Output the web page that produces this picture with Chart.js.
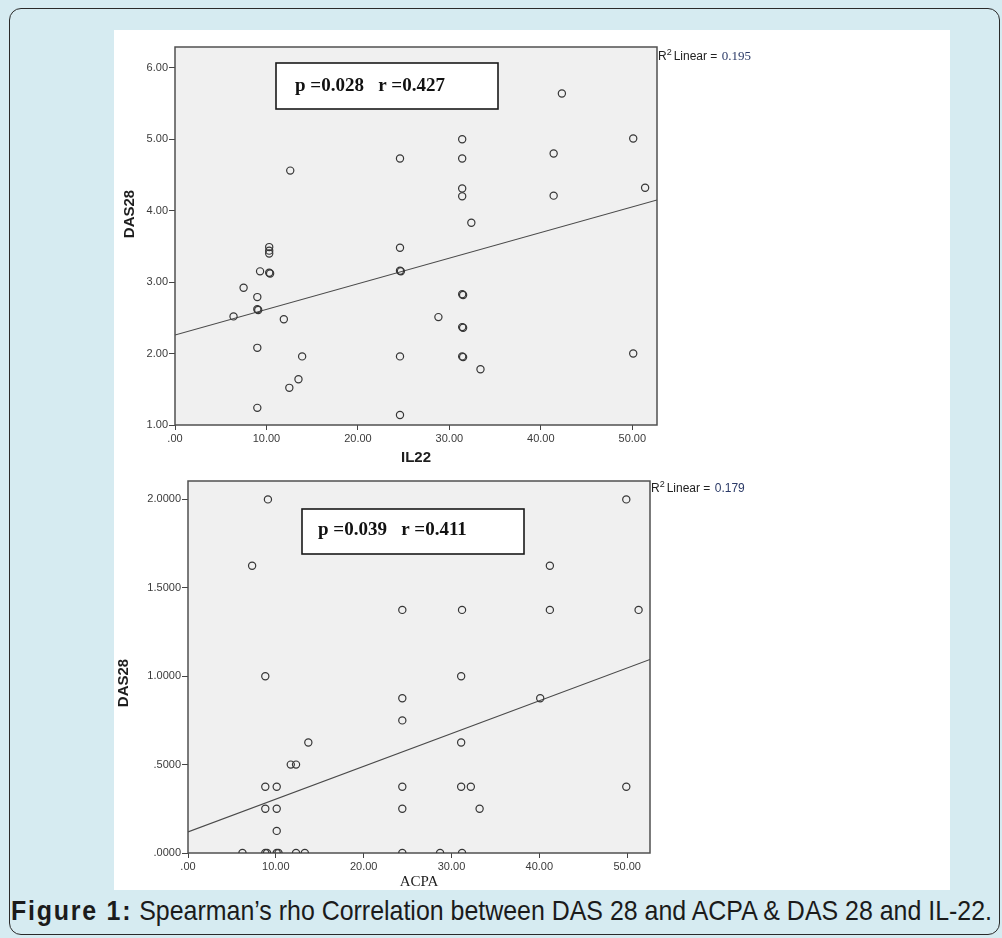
<!DOCTYPE html>
<html>
<head>
<meta charset="utf-8">
<script src="https://cdn.jsdelivr.net/npm/chart.js@4.4.1/dist/chart.umd.min.js"></script>
<style>
html,body{margin:0;padding:0;}
body{width:1002px;height:938px;overflow:hidden;position:relative;background:#d6ebf1;font-family:"Liberation Sans",Arial,sans-serif;}
#frame{position:absolute;left:9px;top:8px;width:991px;height:927px;border:1.5px solid #2a2a2a;border-radius:12px;box-sizing:border-box;}
#panel{position:absolute;left:114px;top:30px;width:836px;height:860px;background:#ffffff;}
#w1{position:absolute;left:114px;top:30px;width:686px;height:440px;}
#w2{position:absolute;left:114px;top:470px;width:686px;height:420px;}
canvas{display:block;}
#caption{position:absolute;left:11px;top:895px;white-space:nowrap;font-family:"Liberation Sans Narrow","Liberation Sans",Arial,sans-serif;font-size:28px;line-height:32px;color:#1b1b1b;transform-origin:0 0;}
#caption b{font-weight:bold;letter-spacing:2px;}
</style>
</head>
<body>
<div id="frame"></div>
<div id="panel"></div>
<div id="w1"><canvas id="c1" width="686" height="440"></canvas></div>
<div id="w2"><canvas id="c2" width="686" height="420"></canvas></div>
<div id="caption"><b>Figure 1:</b> Spearman’s rho Correlation between DAS 28 and ACPA &amp; DAS 28 and IL-22.</div>
<script>
// ---------- data ----------
const il22 = [12.6, 24.6, 31.4, 31.4, 31.4, 31.4, 32.4, 24.6, 10.3, 10.3, 10.3, 42.3, 50.1, 41.4, 41.4, 51.4, 50.1,
              9.3, 10.3, 10.4, 7.5, 9.0, 9.0, 9.1, 6.4, 11.9, 9.0, 13.9, 13.5, 12.5, 9.0,
              24.6, 24.7, 24.6, 24.6, 28.8, 31.4, 31.5, 31.4, 31.5, 31.4, 31.5, 33.4];
const das28Top = [4.56, 4.73, 5.00, 4.73, 4.31, 4.20, 3.83, 3.48, 3.49, 3.44, 3.40, 5.64, 5.01, 4.80, 4.21, 4.32, 2.00,
              3.15, 3.13, 3.12, 2.92, 2.79, 2.62, 2.61, 2.52, 2.48, 2.08, 1.96, 1.64, 1.52, 1.24,
              3.16, 3.15, 1.96, 1.14, 2.51, 2.83, 2.82, 2.37, 2.36, 1.96, 1.95, 1.78];

const acpa = [9.1, 7.3, 24.4, 31.2, 49.9, 41.2, 41.2, 51.3, 8.8, 31.1, 24.4, 24.4, 13.7, 31.1, 11.7, 12.3,
              8.8, 10.1, 24.4, 31.1, 32.2, 8.8, 10.1, 24.4, 33.2, 10.1,
              6.2, 8.8, 9.0, 10.1, 10.3, 12.3, 13.3, 24.4, 28.7, 31.2, 40.1, 49.9];
const das28Bottom = [2.0, 1.625, 1.375, 1.375, 2.0, 1.625, 1.375, 1.375, 1.0, 1.0, 0.875, 0.75, 0.625, 0.625, 0.5, 0.5,
              0.375, 0.375, 0.375, 0.375, 0.375, 0.25, 0.25, 0.25, 0.25, 0.125,
              0, 0, 0, 0, 0, 0, 0, 0, 0, 0, 0.875, 0.375];

const fitTopX = [0, 52.7];
const fitTopY = [2.26, 4.15];
const fitBottomX = [0, 52.6];
const fitBottomY = [0.119, 1.095];

const xTickValues = [0, 10, 20, 30, 40, 50];
const xTickLabels = ['.00', '10.00', '20.00', '30.00', '40.00', '50.00'];
const yTopTickValues = [1, 2, 3, 4, 5, 6];
const yTopTickLabels = ['1.00', '2.00', '3.00', '4.00', '5.00', '6.00'];
const yBottomTickValues = [0, 0.5, 1, 1.5, 2];
const yBottomTickLabels = ['.0000', '.5000', '1.0000', '1.5000', '2.0000'];

const statsTop = 'p =0.028   r =0.427';
const statsBottom = 'p =0.039   r =0.411';
const r2Top = '0.195';
const r2Bottom = '0.179';

// ---------- drawing ----------
const SANS = '"Liberation Sans", Arial, sans-serif';
const SERIF = '"Liberation Serif", "Times New Roman", serif';

const deco = {
  id: 'deco',
  beforeDraw(chart, args, o) {
    const {ctx, chartArea: a} = chart;
    ctx.save();
    ctx.fillStyle = o.plotBg;
    ctx.fillRect(a.left, a.top, a.right - a.left, a.bottom - a.top);
    ctx.restore();
  },
  beforeDatasetsDraw(chart, args, o) {
    const {ctx, chartArea: a} = chart;
    ctx.save();
    ctx.strokeStyle = '#505050';
    ctx.lineWidth = 1.5;
    ctx.strokeRect(a.left, a.top, a.right - a.left, a.bottom - a.top);
    ctx.restore();
  },
  afterDraw(chart, args, o) {
    const ctx = chart.ctx;
    ctx.save();
    // stats box
    const b = o.box;
    ctx.fillStyle = '#ffffff';
    ctx.fillRect(b.x1, b.y1, b.x2 - b.x1, b.y2 - b.y1);
    ctx.strokeStyle = '#1a1a1a';
    ctx.lineWidth = 1.6;
    ctx.strokeRect(b.x1, b.y1, b.x2 - b.x1, b.y2 - b.y1);
    ctx.fillStyle = '#111111';
    ctx.font = 'bold 19px ' + SERIF;
    ctx.textBaseline = 'middle';
    ctx.textAlign = 'left';
    ctx.fillText(o.stats, b.tx, b.ty);
    // R² label
    ctx.fillStyle = '#222222';
    ctx.font = '12px ' + SANS;
    let x = o.r2x;
    ctx.fillText('R', x, o.r2y);
    x += ctx.measureText('R').width;
    ctx.font = '9px ' + SANS;
    ctx.fillText('2', x, o.r2y - 4);
    x += ctx.measureText('2').width + 2;
    ctx.font = '12px ' + SANS;
    ctx.fillText('Linear = ', x, o.r2y);
    x += ctx.measureText('Linear = ').width + 1;
    ctx.fillStyle = '#2b3a67';
    ctx.font = o.r2Font;
    ctx.fillText(o.r2, x, o.r2y);
    // y title (rotated)
    ctx.translate(o.yt.x, o.yt.y);
    ctx.rotate(-Math.PI / 2);
    ctx.textAlign = 'center';
    ctx.fillStyle = '#1e1e1e';
    ctx.font = 'bold 15px ' + SANS;
    ctx.fillText('DAS28', 0, 0);
    ctx.restore();
  }
};

function pts(xs, ys) { return xs.map((x, i) => ({x: x, y: ys[i]})); }

function makeChart(id, o) {
  return new Chart(document.getElementById(id), {
    type: 'scatter',
    data: {
      datasets: [
        {data: pts(o.xs, o.ys), pointRadius: 3.6, pointHoverRadius: 3.6, pointStyle: 'circle',
         borderColor: '#363636', backgroundColor: 'rgba(0,0,0,0)', borderWidth: 1.2, order: 1},
        {data: pts(o.fitX, o.fitY), showLine: true, pointRadius: 0, borderColor: '#4a4a4a',
         borderWidth: 1.1, fill: false, order: 2}
      ]
    },
    options: {
      responsive: false, animation: false, events: [],
      layout: {padding: o.padding},
      plugins: {legend: {display: false}, tooltip: {enabled: false}, deco: o.deco},
      scales: {
        x: {
          type: 'linear', position: 'bottom', min: o.xMin, max: o.xMax,
          afterBuildTicks: s => { s.ticks = xTickValues.map(v => ({value: v})); },
          afterFit: s => { s.height = o.xAxisH; },
          ticks: {autoSkip: false, maxRotation: 0, minRotation: 0, padding: 2, color: '#3a3a3a',
                  font: {family: SANS, size: 11}, callback: (v, i) => xTickLabels[i]},
          grid: {drawOnChartArea: false, drawTicks: true, tickLength: 5, color: '#444', lineWidth: 1},
          border: {display: false},
          title: {display: true, text: o.xTitle, color: '#1e1e1e', font: o.xTitleFont, padding: o.xTitlePad}
        },
        y: {
          type: 'linear', position: 'left', min: o.yMin, max: o.yMax,
          afterBuildTicks: s => { s.ticks = o.yTicks.map(v => ({value: v})); },
          afterFit: s => { s.width = o.yAxisW; },
          ticks: {autoSkip: false, padding: 1, color: '#3a3a3a',
                  font: {family: SANS, size: 11}, callback: (v, i) => o.yLabels[i]},
          grid: {drawOnChartArea: false, drawTicks: true, tickLength: 6, color: '#444', lineWidth: 1},
          border: {display: false}
        }
      }
    },
    plugins: [deco]
  });
}

makeChart('c1', {
  xs: il22, ys: das28Top, fitX: fitTopX, fitY: fitTopY,
  xMin: 0, xMax: 52.7, yMin: 1, yMax: 6.29,
  yTicks: yTopTickValues, yLabels: yTopTickLabels,
  padding: {left: 0, right: 143, top: 17, bottom: 0},
  xAxisH: 45, yAxisW: 61,
  xTitle: 'IL22', xTitleFont: {family: SANS, size: 15, weight: 'bold', lineHeight: 1.2}, xTitlePad: {top: 0, bottom: 3},
  deco: {plotBg: '#f0f0f0', box: {x1: 162, y1: 33, x2: 384, y2: 79, tx: 181, ty: 56},
         stats: statsTop, r2: r2Top, r2x: 544, r2y: 27, r2Font: '13px ' + SERIF, yt: {x: 16, y: 184}}
});

makeChart('c2', {
  xs: acpa, ys: das28Bottom, fitX: fitBottomX, fitY: fitBottomY,
  xMin: 0, xMax: 52.6, yMin: 0, yMax: 2.104,
  yTicks: yBottomTickValues, yLabels: yBottomTickLabels,
  padding: {left: 0, right: 150, top: 11, bottom: 0},
  xAxisH: 37, yAxisW: 74,
  xTitle: 'ACPA', xTitleFont: {family: SERIF, size: 15, weight: 'normal', lineHeight: 1.0}, xTitlePad: {top: 0, bottom: 0},
  deco: {plotBg: '#f0f0f0', box: {x1: 188, y1: 39, x2: 410, y2: 84, tx: 204, ty: 60},
         stats: statsBottom, r2: r2Bottom, r2x: 537, r2y: 19, r2Font: '12px ' + SANS, yt: {x: 10, y: 213}}
});

// fit caption width to the reference line length
const cap = document.getElementById('caption');
const w = cap.getBoundingClientRect().width;
cap.style.transform = 'scaleX(' + (981 / w) + ')';
</script>
</body>
</html>
